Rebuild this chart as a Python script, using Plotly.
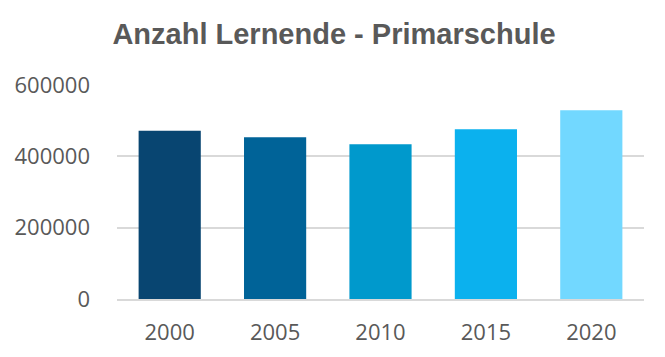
import plotly.graph_objects as go

years = ["2000", "2005", "2010", "2015", "2020"]
lernende = [472000, 453500, 434000, 476000, 529000]
colors = ["#084571", "#006398", "#0099CC", "#0BB1EE", "#72D8FF"]
y_ticks = [0, 200000, 400000, 600000]

fig = go.Figure(go.Bar(x=years, y=lernende, marker_color=colors, marker_line_width=0))

# page body has an 8px default margin, so the figure is sized 8px smaller
W, H = 657, 349
fig.update_layout(
    width=W, height=H,
    margin=dict(l=109, r=21, t=77, b=58, autoexpand=False),
    paper_bgcolor="white", plot_bgcolor="white",
    bargap=0.41,
    showlegend=False,
    title=dict(text="<b>Anzahl Lernende - Primarschule</b>", x=(334 - 8) / W, xref="container", xanchor="center",
               y=1 - 25.5 / H, yref="container", yanchor="middle",
               font=dict(family="Liberation Sans", size=29, color="#595959")),
    font=dict(family="Open Sans", size=22, color="#595959"),
)
fig.update_xaxes(showgrid=False, showline=True, linecolor="#D9D9D9", linewidth=2, ticks="",
                 ticklabelstandoff=13, automargin=False)
fig.update_yaxes(range=[0, 600000], tickvals=y_ticks, ticktext=[str(v) for v in y_ticks],
                 showgrid=True, gridcolor="#D9D9D9", gridwidth=2, zeroline=False, showline=False,
                 ticks="", ticklabelstandoff=26, automargin=False)

fig.write_html("out.html")
